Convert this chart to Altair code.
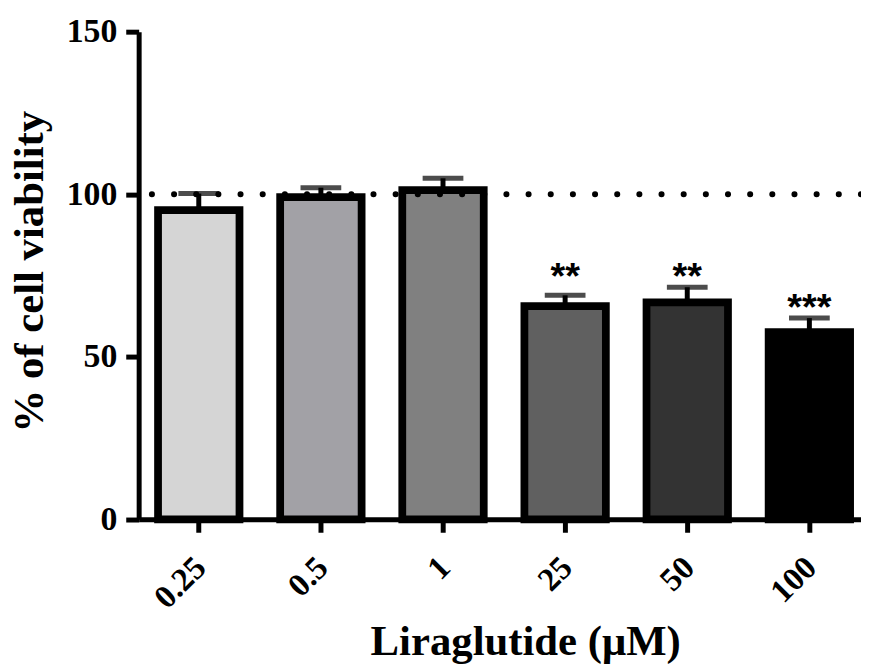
import altair as alt
import pandas as pd

doses = ["0.25", "0.5", "1", "25", "50", "100"]
means = [95.1, 99.1, 101.3, 65.6, 66.7, 57.6]
err_top = [100.2, 102.0, 104.9, 68.9, 71.4, 61.9]
fills = ["#d5d5d5", "#a2a1a6", "#808080", "#606060", "#333333", "#000000"]
stars = ["", "", "", "**", "**", "***"]
star_y = [None, None, None, 71.0, 71.0, 61.2]
ref_line = [100]

df = pd.DataFrame({"dose": doses, "mean": means, "top": err_top, "star": stars, "sy": star_y})

FONT = "Liberation Serif"

xs = alt.Scale(domain=doses, paddingInner=0.333, paddingOuter=0.124, align=0.64)
ys = alt.Scale(domain=[0, 150], nice=False, zero=True)

x_enc = alt.X(
    "dose:N", scale=xs, sort=doses,
    axis=alt.Axis(
        title="Liraglutide (μM)", labelAngle=-45, labelAlign="right", labelBaseline="middle",
        labelPadding=30, labelOffset=2, tickSize=13, tickWidth=5, domainWidth=5,
        labelFont=FONT, labelFontWeight="bold", labelFontSize=33, labelColor="black",
        titleFont=FONT, titleFontWeight="bold", titleFontSize=43, titleColor="black",
        titleX=389, titleY=136.5, titleAlign="center", titleBaseline="alphabetic",
        domainColor="black", tickColor="black", grid=False,
    ),
)
y_axis = alt.Axis(
    title="% of cell viability", values=[0, 50, 100, 150], tickSize=13, tickWidth=5, domainWidth=5,
    labelPadding=9, labelFont=FONT, labelFontWeight="bold", labelFontSize=34, labelColor="black",
    titleFont=FONT, titleFontWeight="bold", titleFontSize=43, titleColor="black",
    titleX=-96.5, titleY=241, titleAngle=-90, titleAlign="center", titleBaseline="alphabetic",
    domainColor="black", tickColor="black", grid=False,
)

base = alt.Chart(df)

bars = base.mark_bar(stroke="black", strokeWidth=7.8, strokeJoin="miter").encode(
    x=x_enc,
    y=alt.Y("mean:Q", scale=ys, axis=y_axis),
    fill=alt.Fill("dose:N", scale=alt.Scale(domain=doses, range=fills), legend=None),
)

stems = base.mark_rule(color="black", strokeWidth=5).encode(
    x=alt.X("dose:N", sort=doses), y="mean:Q", y2="top:Q"
)
caps = base.mark_tick(color="black", size=41, thickness=5).encode(
    x=alt.X("dose:N", sort=doses), y="top:Q"
)

stars_layer = alt.Chart(df[df["star"] != ""]).mark_text(
    font="Liberation Sans", fontSize=38, fontWeight="bold", baseline="alphabetic", align="center", color="black"
).encode(x=alt.X("dose:N", sort=doses), y="sy:Q", text="star:N")

dots = alt.Chart(pd.DataFrame({"v": ref_line})).mark_rule(
    color="black", strokeWidth=6, strokeDash=[0.1, 22.2], strokeCap="round"
).encode(y="v:Q")

chart = alt.layer(stems, caps, bars, dots, stars_layer).properties(
    width=727, height=490.8,
    background="white",
    autosize=alt.AutoSizeParams(type="none"),
    padding={"left": 131.5, "top": 21.7, "right": 0, "bottom": 148},
).configure_view(strokeWidth=0)

chart.save("out.html", embed_options={"renderer": "svg", "actions": False})
